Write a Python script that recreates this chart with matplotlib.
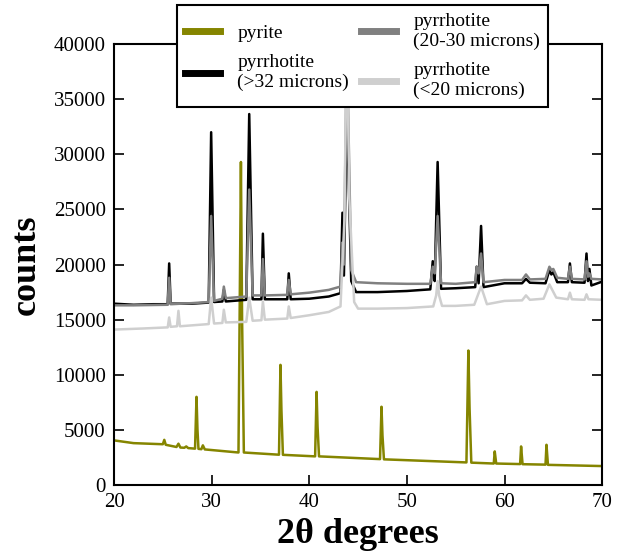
import matplotlib
matplotlib.use("Agg")
import matplotlib.pyplot as plt
from matplotlib.lines import Line2D

# === DONNEES (2theta, counts) ===
pyrite_x = [20, 22, 25.0, 25.15, 25.3, 26.4, 26.6, 26.8, 27.2, 27.4, 27.6, 28.3, 28.45, 28.55, 28.65,
            28.95, 29.1, 29.3, 32.75, 33.0, 33.12, 33.3, 36.9, 37.05, 37.15, 37.3, 40.6, 40.75, 40.85,
            41.0, 47.25, 47.4, 47.5, 47.65, 56.1, 56.3, 56.42, 56.6, 58.9, 59.0, 59.15, 61.6, 61.7,
            61.85, 64.2, 64.3, 64.45, 67, 70]
pyrite_y = [4050, 3800, 3700, 4100, 3650, 3450, 3750, 3400, 3380, 3500, 3350, 3300, 8000, 5000, 3280,
            3250, 3600, 3230, 2950, 29300, 15000, 2950, 2750, 10900, 6800, 2740, 2600, 8450, 5300,
            2600, 2350, 7100, 4500, 2330, 2050, 12200, 7000, 2030, 1950, 3050, 1950, 1900, 3500,
            1890, 1850, 3650, 1830, 1780, 1720]

big_x = [20, 22, 24, 25.5, 25.65, 25.8, 28, 29.7, 29.95, 30.25, 31.1, 31.25, 31.45, 33.55, 33.85,
         34.2, 35.1, 35.25, 35.45, 37.75, 37.9, 38.1, 40, 42, 43.2, 43.4, 43.55, 43.85, 44.3, 44.8,
         47, 50, 52.4, 52.65, 52.85, 53.15, 53.5, 55, 57.0, 57.15, 57.35, 57.6, 57.85, 60, 61.8,
         62.2, 62.6, 64.2, 64.6, 64.8, 65.0, 65.4, 66.5, 66.7, 66.9, 68.2, 68.4, 68.55, 68.7, 68.9, 70]
big_y = [16450, 16350, 16400, 16400, 20100, 16450, 16450, 16550, 32000, 16600, 16650, 17700, 16650,
         16800, 33650, 16850, 16850, 22800, 16850, 16850, 19200, 16850, 16900, 17100, 17400, 24700,
         19000, 34500, 18500, 17500, 17500, 17600, 17750, 20300, 18500, 29300, 17800, 17850, 17950,
         19800, 18300, 23500, 17950, 18300, 18300, 18700, 18350, 18300, 19500, 19100, 19300, 18400,
         18400, 20100, 18400, 18350, 21000, 18500, 19600, 18100, 18450]

mid_x = [20, 22, 25.5, 25.65, 25.8, 28, 29.7, 29.95, 30.25, 31.1, 31.25, 31.45, 33.55, 33.85, 34.2,
         35.1, 35.25, 35.45, 37.75, 37.9, 38.1, 40, 42, 43.2, 43.4, 43.55, 43.85, 44.3, 44.8, 47, 50,
         52.4, 52.65, 52.85, 53.15, 53.5, 55, 57.0, 57.15, 57.35, 57.6, 57.85, 60, 61.8, 62.2, 62.6,
         64.2, 64.6, 64.8, 65.0, 65.4, 66.5, 66.7, 66.9, 68.2, 68.4, 68.55, 68.7, 68.9, 70]
mid_y = [16300, 16300, 16350, 18800, 16400, 16500, 16600, 24400, 16700, 16900, 18000, 16950, 17100,
         26800, 17200, 17200, 20500, 17200, 17250, 18600, 17300, 17450, 17700, 18000, 22000, 20000,
         40000, 19500, 18400, 18300, 18250, 18250, 19800, 19200, 24400, 18300, 18250, 18400, 19800,
         19200, 21000, 18400, 18600, 18600, 19100, 18650, 18700, 19800, 19500, 19600, 18800, 18700,
         19800, 18700, 18650, 20300, 18900, 19200, 18700, 18650]

small_x = [20, 23, 25.5, 25.65, 25.8, 26.45, 26.6, 26.75, 29.7, 29.95, 30.25, 31.1, 31.25, 31.45,
           33.55, 33.85, 34.2, 35.1, 35.25, 35.45, 37.75, 37.9, 38.1, 40, 42, 43.2, 43.6, 43.85, 44.1,
           44.6, 45, 47, 50, 52.7, 53.0, 53.15, 53.3, 53.6, 55, 56.9, 57.6, 58.2, 60, 61.8, 62.2, 62.6,
           64.0, 64.6, 65.3, 66.5, 66.7, 66.9, 68.2, 68.4, 68.6, 70]
small_y = [14100, 14200, 14300, 15200, 14350, 14400, 15800, 14400, 14600, 17000, 14650, 14700, 15900,
           14750, 14800, 17000, 14900, 14950, 16650, 15000, 15100, 16200, 15150, 15400, 15700, 16200,
           24000, 42000, 26000, 16600, 16000, 16000, 16050, 16200, 17200, 18500, 17200, 16250, 16250,
           16350, 18000, 16400, 16700, 16750, 17200, 16800, 16900, 18200, 17000, 16850, 17450, 16850,
           16800, 17300, 16850, 16800]

labels = ["pyrite", "pyrrhotite\n(>32 microns)", "pyrrhotite\n(20-30 microns)", "pyrrhotite\n(<20 microns)"]
colors = ["#858500", "black", "#808080", "#cfcfcf"]

# === GRAPHIQUE ===
plt.rcParams["font.family"] = ["Liberation Serif", "DejaVu Serif"]
fig = plt.figure(figsize=(6.21, 5.54), dpi=100)
ax = fig.add_axes([0.1836, 0.1245, 0.786, 0.796])

ax.plot(pyrite_x, pyrite_y, color=colors[0], lw=1.8)
ax.plot(big_x, big_y, color=colors[1], lw=1.8)
ax.plot(mid_x, mid_y, color=colors[2], lw=1.8)
ax.plot(small_x, small_y, color=colors[3], lw=1.8)

ax.set_xlim(20, 70)
ax.set_ylim(0, 40000)
ax.set_xticks([20, 30, 40, 50, 60, 70])
ax.set_yticks(range(0, 40001, 5000))
ax.tick_params(direction="in", top=True, right=True, length=7, width=1.2, labelsize=15, pad=6)
for s in ax.spines.values():
    s.set_linewidth(1.5)

ax.set_xlabel("2θ degrees", fontsize=26, fontweight="bold", labelpad=4)
ax.set_ylabel("counts", fontsize=26, fontweight="bold", labelpad=8)

handles = [Line2D([], [], color=c, lw=5) for c in colors]
leg = fig.legend(handles, labels, ncol=2, loc="upper left", bbox_to_anchor=(0.285, 0.991),
                 fontsize=14, frameon=True, fancybox=False, framealpha=1, edgecolor="black",
                 handlelength=1.8, handletextpad=0.9, columnspacing=0.6, labelspacing=0.65,
                 borderpad=0.4, borderaxespad=0)
leg.get_frame().set_linewidth(1.5)

plt.savefig("out.png")
